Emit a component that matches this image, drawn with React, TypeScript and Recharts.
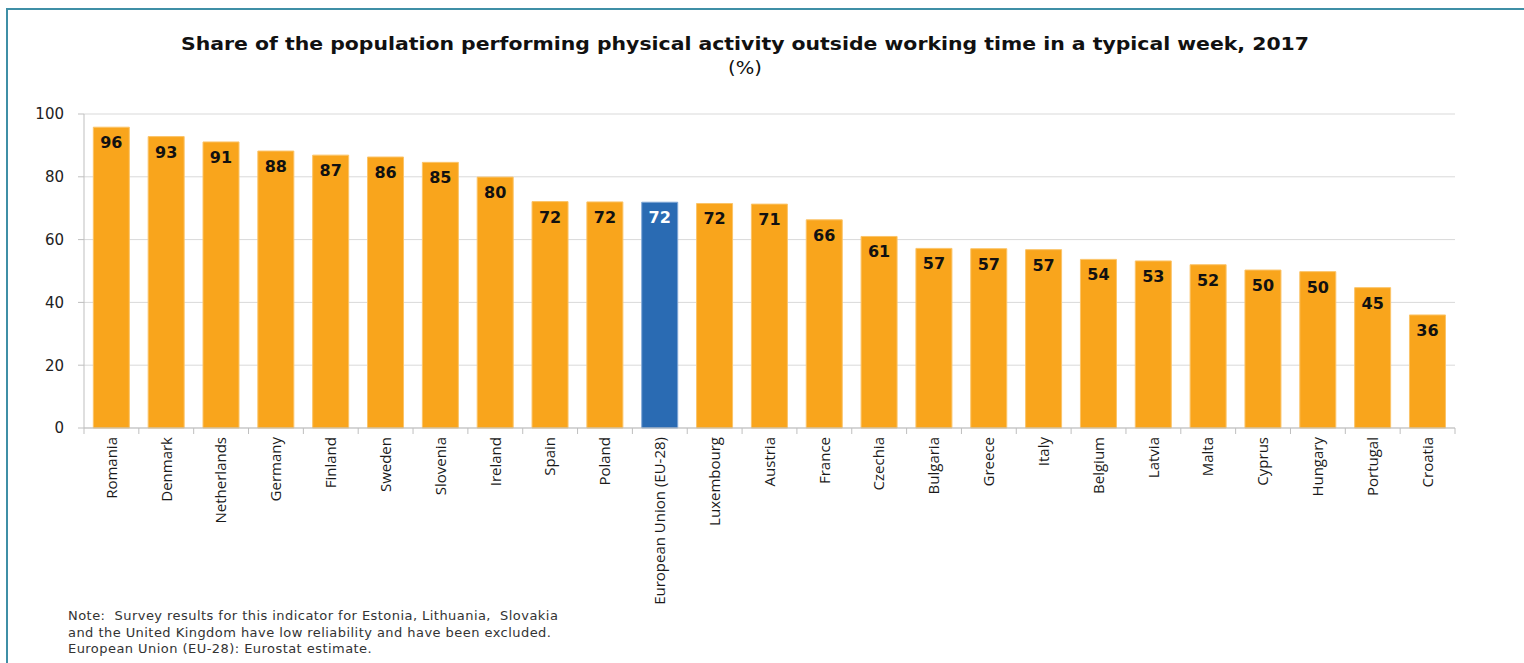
import { Bar, BarChart, CartesianGrid, Cell, LabelList, XAxis, YAxis } from 'recharts';

const countries = [
  'Romania', 'Denmark', 'Netherlands', 'Germany', 'Finland', 'Sweden', 'Slovenia', 'Ireland',
  'Spain', 'Poland', 'European Union (EU-28)', 'Luxembourg', 'Austria', 'France', 'Czechia',
  'Bulgaria', 'Greece', 'Italy', 'Belgium', 'Latvia', 'Malta', 'Cyprus', 'Hungary', 'Portugal', 'Croatia',
];

const shares = [
  95.8, 92.8, 91.1, 88.2, 86.9, 86.3, 84.6, 79.9, 72.1, 72.0, 71.9, 71.5, 71.3, 66.3, 61.0,
  57.2, 57.1, 56.8, 53.7, 53.2, 52.0, 50.3, 49.8, 44.7, 36.0,
];

const yTicks = [0, 20, 40, 60, 80, 100];

const EU = 'European Union (EU-28)';

const data = countries.map((country, i) => ({ country, share: shares[i] }));

const ORANGE = '#F9A51C';
const BLUE = '#2A6BB3';
const AXIS = '#BFBFBF';

function CountryTick(props: any) {
  const { x, y, payload, index } = props;
  const half = payload.offset ?? 27.4;
  const last = index === countries.length - 1;
  return (
    <g>
      <line x1={x - half} x2={x - half} y1={y - 8} y2={y - 2} stroke={AXIS} />
      {last && <line x1={x + half} x2={x + half} y1={y - 8} y2={y - 2} stroke={AXIS} />}
      <text
        transform={`translate(${x},${y + 1}) rotate(-90)`}
        textAnchor="end"
        dy="0.35em"
        fontFamily="'Liberation Sans Narrow', 'Open Sans', sans-serif"
        fontSize={15}
        fill="#1a1a1a"
      >
        {payload.value}
      </text>
    </g>
  );
}

function ValueLabel(props: any) {
  const { x, y, width, value, index } = props;
  const isEu = countries[index] === EU;
  return (
    <text
      x={x + width / 2}
      y={y + 21}
      textAnchor="middle"
      fontFamily="'DejaVu Sans', Verdana, sans-serif"
      fontWeight="bold"
      fontSize={16}
      fill={isEu ? '#ffffff' : '#111111'}
    >
      {Math.round(value)}
    </text>
  );
}

export default function App() {
  return (
    <div
      style={{
        position: 'absolute',
        left: 0,
        top: 0,
        width: 1524,
        height: 663,
        background: '#fff',
        overflow: 'hidden',
      }}
    >
      <div style={{ position: 'absolute', left: 7, top: 8, width: 1517, height: 2, background: '#3F8FA6' }} />
      <div style={{ position: 'absolute', left: 6, top: 8, width: 2, height: 655, background: '#3F8FA6' }} />

      <div
        style={{
          position: 'absolute',
          left: 0,
          top: 32,
          width: 1490,
          textAlign: 'center',
          fontFamily: "'DejaVu Sans', Verdana, sans-serif",
          color: '#111',
          lineHeight: '24px',
        }}
      >
        <div style={{ fontWeight: 'bold', fontSize: 17, transform: 'scaleX(1.2)' }}>
          Share of the population performing physical activity outside working time in a typical week, 2017
        </div>
        <div style={{ fontSize: 17, transform: 'scaleX(1.15)' }}>(%)</div>
      </div>

      <div style={{ position: 'absolute', left: 0, top: 0 }}>
        <BarChart
          width={1524}
          height={663}
          data={data}
          margin={{ top: 114, right: 69, bottom: 0, left: 24 }}
          barCategoryGap="17%"
        >
          <CartesianGrid vertical={false} stroke="#D9D9D9" />
          <XAxis
            dataKey="country"
            interval={0}
            height={235}
            stroke={AXIS}
            tickLine={false}
            tick={<CountryTick />}
          />
          <YAxis
            domain={[0, 100]}
            ticks={yTicks}
            width={60}
            stroke={AXIS}
            tickSize={6}
            tickMargin={14}
            tick={{ fill: '#222', fontSize: 15, fontFamily: "'DejaVu Sans', Verdana, sans-serif" }}
          />
          <Bar dataKey="share" isAnimationActive={false}>
            {data.map((d) => (
              <Cell
                key={d.country}
                fill={d.country === EU ? BLUE : ORANGE}
                stroke={d.country === EU ? '#7FA7D6' : '#FBC469'}
                strokeWidth={1}
              />
            ))}
            <LabelList dataKey="share" content={<ValueLabel />} />
          </Bar>
        </BarChart>
      </div>

      <div
        style={{
          position: 'absolute',
          left: 68,
          top: 608,
          fontFamily: "'DejaVu Sans', Verdana, sans-serif",
          fontSize: 13,
          letterSpacing: 0.45,
          lineHeight: '16.5px',
          color: '#333',
        }}
      >
        Note:&nbsp; Survey results for this indicator for Estonia, Lithuania,&nbsp; Slovakia
        <br />
        and the United Kingdom have low reliability and have been excluded.
        <br />
        European Union (EU-28): Eurostat estimate.
      </div>
    </div>
  );
}
